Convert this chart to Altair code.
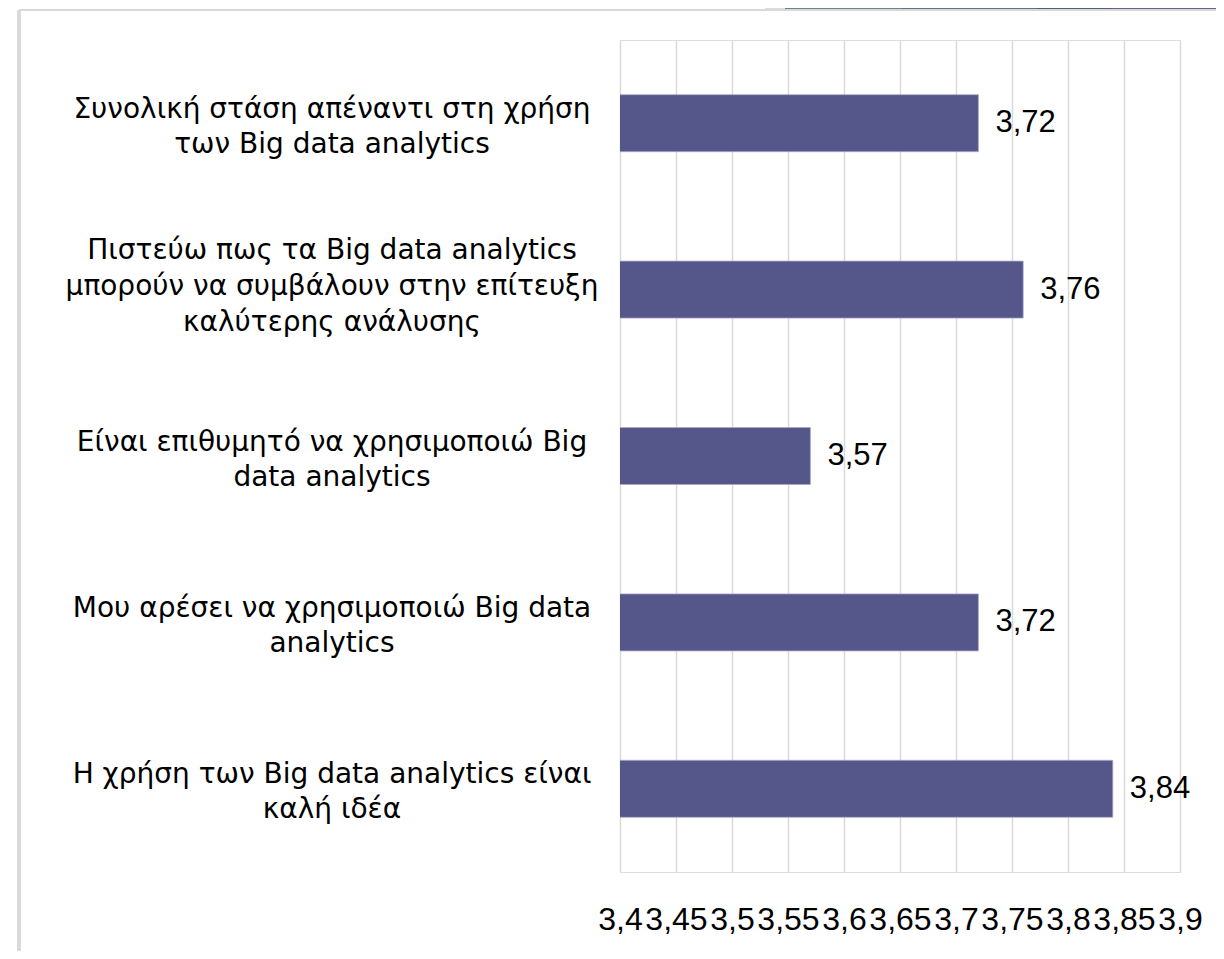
import altair as alt
import pandas as pd

categories = [
    "Συνολική στάση απέναντι στη χρήση|των Big data analytics",
    "Πιστεύω πως τα Big data analytics|μπορούν να συμβάλουν στην επίτευξη|καλύτερης ανάλυσης",
    "Είναι επιθυμητό να χρησιμοποιώ Big|data analytics",
    "Μου αρέσει να χρησιμοποιώ Big data|analytics",
    "Η χρήση των Big data analytics είναι|καλή ιδέα",
]
values = [3.72, 3.76, 3.57, 3.72, 3.84]
tick_values = [3.4, 3.45, 3.5, 3.55, 3.6, 3.65, 3.7, 3.75, 3.8, 3.85, 3.9]

# decorative strip (slide theme) in the top-right corner
deco_x = [145, 165, 282, 417, 491]
deco_x2 = [165, 282, 417, 491, 604]
deco_color = ["#dcdce6", "#64868a", "#577882", "#4f5f88", "#5f6495"]

df = pd.DataFrame({"cat": categories, "val": values})
df["lab"] = [f"{v:.2f}".replace(".", ",") for v in values]

rows = []
for c in categories:
    parts = c.split("|")
    n = len(parts)
    line_h = 36 if n > 2 else 35
    mid = 72 if n > 2 else 79
    for i, p in enumerate(parts):
        rows.append({"cat": c, "line": p, "off": mid + (i - (n - 1) / 2) * line_h})
lines = pd.DataFrame(rows)

deco = pd.DataFrame({"x": deco_x, "x2": deco_x2, "c": deco_color})

FONT_NUM = "Liberation Sans"
FONT_CAT = "DejaVu Sans"

x = alt.X(
    "val:Q",
    scale=alt.Scale(domain=[3.4, 3.9], nice=False, zero=False),
    axis=alt.Axis(
        values=tick_values,
        labelExpr="replace(format(datum.value, '.2~f'), '.', ',')",
        title=None,
        domain=False,
        ticks=False,
        grid=True,
        gridColor="#d9d9d9",
        gridWidth=1.5,
        labelFont=FONT_NUM,
        labelFontSize=32,
        labelColor="#000000",
        labelPadding=32,
        labelOverlap=False,
        labelFlush=False,
    ),
)
y = alt.Y("cat:N", sort=categories, axis=None)

bars = alt.Chart(df).mark_bar(
    size=57, color="#55568a", stroke="#a9aacb", strokeWidth=0.8, clip=True
).encode(x=x, y=y)

texts = alt.Chart(df).mark_text(
    align="left", baseline="middle", dx=17, font=FONT_NUM, fontSize=31, color="#000000"
).encode(x=alt.X("val:Q"), y=alt.Y("cat:N", sort=categories), text="lab:N")

cat_labels = alt.Chart(lines).mark_text(
    align="center", baseline="middle", font=FONT_CAT, fontSize=28, color="#000000"
).encode(
    x=alt.value(-288),
    y=alt.Y("cat:N", sort=categories),
    yOffset=alt.YOffset("off:Q", scale=None),
    text="line:N",
)

strip = alt.Chart(deco).mark_rect().encode(
    x=alt.X("x:Q", scale=None),
    x2="x2:Q",
    y=alt.value(-32),
    y2=alt.value(-31),
    color=alt.Color("c:N", scale=None),
)
frame_top = alt.Chart(df).mark_rule(color="#d9d9d9", strokeWidth=2).encode(
    x=alt.value(-601), x2=alt.value(604), y=alt.value(-30)
)
frame_left = alt.Chart(df).mark_rule(color="#d9d9d9", strokeWidth=3).encode(
    x=alt.value(-601), y=alt.value(-30), y2=alt.value(930)
)

chart = (
    alt.layer(strip, frame_top, frame_left, bars, texts, cat_labels)
    .properties(
        width=560,
        height=832,
        autosize=alt.AutoSizeParams(type="none"),
        padding={"left": 612, "top": 32, "right": 36, "bottom": 79},
    )
    .configure_view(stroke=None)
    .configure(background="#ffffff")
)

chart.save("out.html", embed_options={"renderer": "svg", "actions": False})
